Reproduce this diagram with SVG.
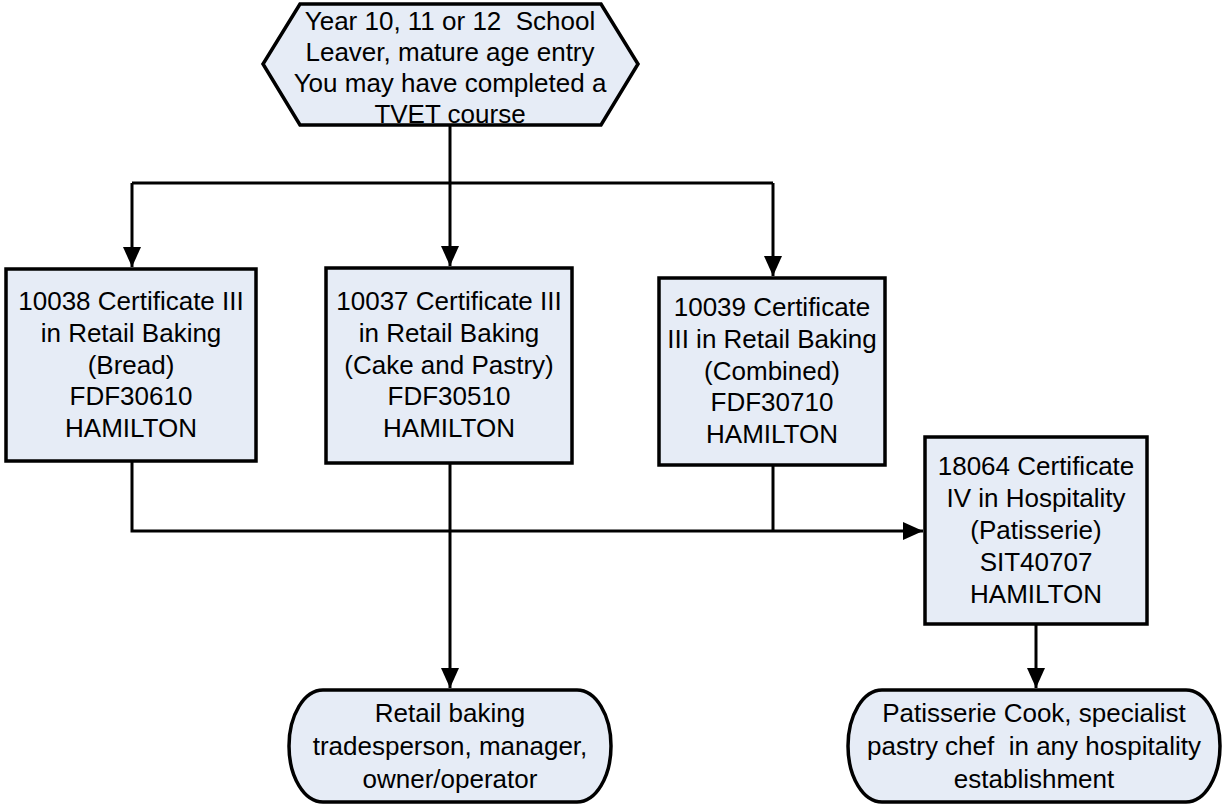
<svg xmlns="http://www.w3.org/2000/svg" width="1222" height="806" viewBox="0 0 1222 806">
<style>
.node{fill:#E6ECF6;stroke:#000;stroke-width:3.5;stroke-linejoin:miter}
.t{font-family:"Liberation Sans",Arial,sans-serif;font-size:26px;fill:#000;text-anchor:middle;white-space:pre}
.c{fill:none;stroke:#000;stroke-width:3}
</style>
<defs>
<marker id="ah" markerWidth="20" markerHeight="18" refX="20" refY="9" orient="auto" markerUnits="userSpaceOnUse">
<path d="M0,0 L20,9 L0,18 Z" fill="#000"/>
</marker>
</defs>
<g id="connectors">
<path class="c" d="M450,126 V183"/>
<path class="c" d="M132,183 H773"/>
<path class="c" d="M132,183 V267" marker-end="url(#ah)"/>
<path class="c" d="M450,183 V266" marker-end="url(#ah)"/>
<path class="c" d="M773,183 V276" marker-end="url(#ah)"/>
<path class="c" d="M132,461 V531 H923" marker-end="url(#ah)"/>
<path class="c" d="M773,465 V531"/>
<path class="c" d="M450,463 V688" marker-end="url(#ah)"/>
<path class="c" d="M1036,624 V688" marker-end="url(#ah)"/>
</g>
<g id="start">
<polygon class="node" points="300,4 601,4 638,64 601,125 300,125 263,64"/>
<text class="t" x="450" y="30" xml:space="preserve">Year 10, 11 or 12  School</text>
<text class="t" x="450" y="61">Leaver, mature age entry</text>
<text class="t" x="450" y="92">You may have completed a</text>
<text class="t" x="450" y="123">TVET course</text>
</g>
<g id="bread">
<rect class="node" x="6" y="269" width="250" height="192"/>
<text class="t" x="131" y="310">10038 Certificate III</text>
<text class="t" x="131" y="342">in Retail Baking</text>
<text class="t" x="131" y="374">(Bread)</text>
<text class="t" x="131" y="405">FDF30610</text>
<text class="t" x="131" y="437">HAMILTON</text>
</g>
<g id="cake">
<rect class="node" x="326" y="268" width="246" height="195"/>
<text class="t" x="449" y="310">10037 Certificate III</text>
<text class="t" x="449" y="342">in Retail Baking</text>
<text class="t" x="449" y="374">(Cake and Pastry)</text>
<text class="t" x="449" y="405">FDF30510</text>
<text class="t" x="449" y="437">HAMILTON</text>
</g>
<g id="combined">
<rect class="node" x="659" y="278" width="226" height="187"/>
<text class="t" x="772" y="316">10039 Certificate</text>
<text class="t" x="772" y="348">III in Retail Baking</text>
<text class="t" x="772" y="380">(Combined)</text>
<text class="t" x="772" y="411">FDF30710</text>
<text class="t" x="772" y="443">HAMILTON</text>
</g>
<g id="patisserie">
<rect class="node" x="925" y="437" width="222" height="187"/>
<text class="t" x="1036" y="475">18064 Certificate</text>
<text class="t" x="1036" y="507">IV in Hospitality</text>
<text class="t" x="1036" y="539">(Patisserie)</text>
<text class="t" x="1036" y="571">SIT40707</text>
<text class="t" x="1036" y="603">HAMILTON</text>
</g>
<g id="retail-career">
<rect class="node" x="289" y="690" width="322" height="112" rx="34" ry="56"/>
<text class="t" x="450" y="722">Retail baking</text>
<text class="t" x="450" y="755">tradesperson, manager,</text>
<text class="t" x="450" y="788">owner/operator</text>
</g>
<g id="pastry-career">
<rect class="node" x="848" y="690" width="372" height="112" rx="34" ry="56"/>
<text class="t" x="1034" y="722">Patisserie Cook, specialist</text>
<text class="t" x="1034" y="755" xml:space="preserve">pastry chef  in any hospitality</text>
<text class="t" x="1034" y="788">establishment</text>
</g>
</svg>
